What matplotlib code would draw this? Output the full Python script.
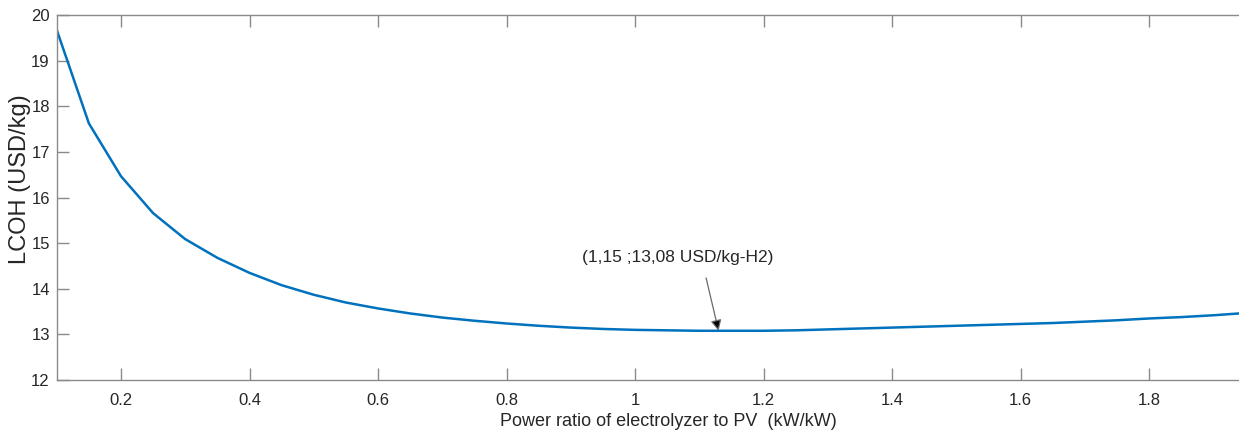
import matplotlib
matplotlib.use("Agg")
import matplotlib.pyplot as plt

# Power ratio (kW/kW) and LCOH (USD/kg)
ratio = [0.10, 0.15, 0.20, 0.25, 0.30, 0.35, 0.40, 0.45, 0.50, 0.55,
         0.60, 0.65, 0.70, 0.75, 0.80, 0.85, 0.90, 0.95, 1.00, 1.05,
         1.10, 1.15, 1.20, 1.25, 1.30, 1.35, 1.40, 1.45, 1.50, 1.55,
         1.60, 1.65, 1.70, 1.75, 1.80, 1.85, 1.90, 1.95]
lcoh = [19.68, 17.63, 16.47, 15.66, 15.09, 14.68, 14.35, 14.08, 13.87, 13.70,
        13.57, 13.46, 13.37, 13.30, 13.24, 13.19, 13.15, 13.12, 13.10, 13.09,
        13.08, 13.08, 13.08, 13.09, 13.11, 13.13, 13.15, 13.17, 13.19, 13.21,
        13.23, 13.25, 13.28, 13.31, 13.35, 13.38, 13.42, 13.47]

xticks = [0.2, 0.4, 0.6, 0.8, 1.0, 1.2, 1.4, 1.6, 1.8]
xticklabels = ['0.2', '0.4', '0.6', '0.8', '1', '1.2', '1.4', '1.6', '1.8']
yticks = [12, 13, 14, 15, 16, 17, 18, 19, 20]

# annotated optimum
opt_x, opt_y = 1.13, 13.08
opt_text = '(1,15 ;13,08 USD/kg-H2)'

plt.rcParams['font.family'] = ['Liberation Sans', 'DejaVu Sans']

fig = plt.figure(figsize=(12.39, 4.34), dpi=100)
ax = fig.add_axes([0.0458, 0.1244, 0.9542, 0.8403])

ax.plot(ratio, lcoh, color='#0072BD', lw=1.8)

ax.set_xlim(0.1, 1.94)
ax.set_ylim(12, 20)
ax.set_xticks(xticks)
ax.set_xticklabels(xticklabels)
ax.set_yticks(yticks)

spine_col = '#8a8a8a'
for s in ['left', 'bottom', 'top']:
    ax.spines[s].set_color(spine_col)
    ax.spines[s].set_linewidth(1.0)
ax.spines['right'].set_visible(False)

ax.tick_params(axis='both', direction='in', length=8.5, width=1.0, color=spine_col,
               labelcolor='#262626', labelsize=12)
ax.tick_params(axis='x', top=True, pad=9)
ax.tick_params(axis='y', pad=5)

ax.set_xlabel('Power ratio of electrolyzer to PV  (kW/kW)', fontsize=13, color='#262626')
ax.xaxis.set_label_coords(0.517, -0.09)
ax.set_ylabel('LCOH (USD/kg)', fontsize=17, color='#262626')
ax.yaxis.set_label_coords(-0.022, 0.55)

# label and arrow pointing at the minimum
ax.text(1.066, 14.68, opt_text, ha='center', va='center', fontsize=12.5, color='#262626')
ax.annotate('', xy=(opt_x, opt_y), xytext=(1.1106, 14.24),
            arrowprops=dict(arrowstyle='-|>', ec='#6a6a6a', fc='black', lw=0.9,
                            mutation_scale=16, shrinkA=0, shrinkB=0))

fig.savefig('out.png', dpi=100)
